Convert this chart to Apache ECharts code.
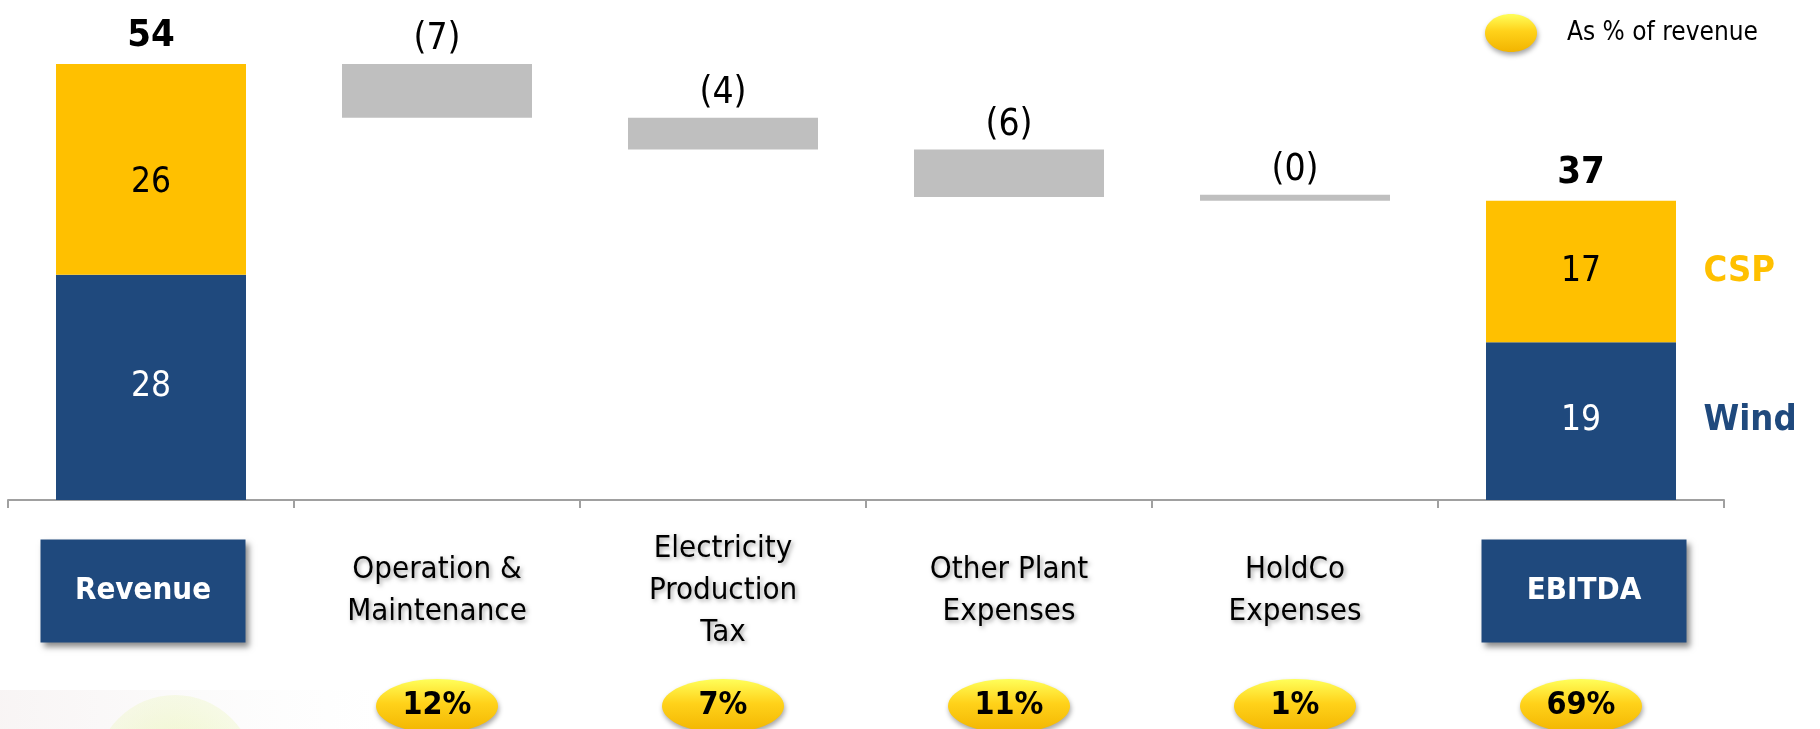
<!DOCTYPE html>
<html>
<head>
<meta charset="utf-8">
<style>
  html, body { margin: 0; padding: 0; background: #ffffff; }
  #chart { width: 1820px; height: 729px; }
</style>
<script src="https://cdn.jsdelivr.net/npm/echarts@6/dist/echarts.min.js"></script>
</head>
<body>
<div id="chart"></div>
<script>
// Revenue to EBITDA bridge (figures in millions)
const categories = ['Revenue', 'Operation &\nMaintenance', 'Electricity\nProduction\nTax', 'Other Plant\nExpenses', 'HoldCo\nExpenses', 'EBITDA'];
const windValues = [27.7, null, null, null, null, 19.4];
const cspValues  = [25.9, null, null, null, null, 17.4];
const costValues = [null, 6.6, 3.9, 5.85, 0.45, null];
const pctLabels  = [null, '12%', '7%', '11%', '1%', '69%'];

const FONT = '"DejaVu Sans Condensed", "DejaVu Sans", sans-serif';
const NAVY = '#1F497D';
const GOLD = '#FFC000';
const GREY = '#BFBFBF';
const CLEAR = 'rgba(0,0,0,0)';

// invisible base under each cost bar so it floats at the running total
const baseValues = [];
let running = windValues[0] + cspValues[0];
for (let i = 0; i < categories.length; i++) {
  if (costValues[i] != null) {
    running -= costValues[i];
    baseValues.push(running);
  } else {
    baseValues.push(null);
  }
}
const totals = [[0, windValues[0] + cspValues[0]], [5, windValues[5] + cspValues[5]]];
const segmentNames = [
  { value: [5, windValues[5] / 2], name: 'Wind', label: { color: NAVY } },
  { value: [5, windValues[5] + cspValues[5] / 2], name: 'CSP', label: { color: GOLD } }
];
const badgeData = [];
pctLabels.forEach((t, i) => { if (t) badgeData.push([i, 0]); });

const badgeFill = new echarts.graphic.LinearGradient(0, 0, 0, 1, [
  { offset: 0, color: '#FFFF5A' },
  { offset: 0.45, color: '#FFD21A' },
  { offset: 1, color: '#F2B400' }
]);

const chart = echarts.init(document.getElementById('chart'));
chart.setOption({
  backgroundColor: '#ffffff',
  animation: false,
  textStyle: { fontFamily: FONT },
  grid: { left: 8, right: 96, top: 12, bottom: 229 },
  xAxis: {
    type: 'category',
    data: categories,
    boundaryGap: true,
    axisLine: { lineStyle: { color: '#A0A0A0', width: 2 } },
    axisTick: { show: true, interval: 0, length: 8, lineStyle: { color: '#A0A0A0', width: 2 } },
    axisLabel: {
      interval: 0,
      margin: 91,
      verticalAlign: 'middle',
      fontFamily: FONT,
      fontSize: 31,
      lineHeight: 42,
      color: '#000',
      textShadowColor: 'rgba(0,0,0,0.35)',
      textShadowBlur: 4,
      textShadowOffsetX: 2,
      textShadowOffsetY: 2,
      formatter: (v, i) => {
        if (i === 0) return '{box|' + v + '}{padR|}';
        if (i === categories.length - 1) return '{padL|}{box|' + v + '}';
        return v;
      },
      rich: {
        box: {
          width: 205, height: 103, align: 'center', verticalAlign: 'middle',
          backgroundColor: NAVY, color: '#fff', fontWeight: 'bold', fontSize: 31, fontFamily: FONT,
          textShadowBlur: 0, textShadowOffsetX: 0, textShadowOffsetY: 0, textShadowColor: CLEAR,
          shadowColor: 'rgba(0,0,0,0.45)', shadowBlur: 6, shadowOffsetX: 3, shadowOffsetY: 4
        },
        padR: { width: 16, height: 10 },
        padL: { width: 6, height: 10 }
      }
    }
  },
  yAxis: { type: 'value', min: 0, max: 60, show: false },
  graphic: [
    // faint decorative wash at the lower left
    {
      type: 'circle', z: -10, silent: true,
      shape: { cx: 175, cy: 775, r: 80 },
      style: { fill: new echarts.graphic.RadialGradient(0.5, 0.5, 0.5, [
        { offset: 0, color: 'rgba(226,242,150,0.55)' },
        { offset: 1, color: 'rgba(236,246,190,0.35)' }
      ]) }
    },
    {
      type: 'rect', z: -11, silent: true,
      shape: { x: 0, y: 690, width: 380, height: 39 },
      style: { fill: new echarts.graphic.LinearGradient(0, 0, 1, 0, [
        { offset: 0, color: 'rgba(235,225,225,0.35)' },
        { offset: 1, color: 'rgba(235,235,235,0)' }
      ]) }
    },
    // legend badge
    {
      type: 'ellipse', silent: true,
      shape: { cx: 1511, cy: 33, rx: 26, ry: 19 },
      style: { fill: badgeFill, shadowColor: 'rgba(0,0,0,0.35)', shadowBlur: 5, shadowOffsetX: 1, shadowOffsetY: 3 }
    },
    {
      type: 'text', silent: true, left: 1567, top: 20,
      style: { text: 'As % of revenue', fontFamily: FONT, fontSize: 26, fill: '#000' }
    }
  ],
  series: [
    {
      name: 'base', type: 'bar', stack: 'wf', barWidth: 190, silent: true,
      itemStyle: { color: CLEAR },
      data: baseValues
    },
    {
      name: 'Wind', type: 'bar', stack: 'wf', barWidth: 190,
      itemStyle: { color: NAVY },
      label: { show: true, position: 'inside', color: '#fff', fontSize: 35, fontFamily: FONT,
        formatter: p => Math.round(p.value) },
      data: windValues
    },
    {
      name: 'CSP', type: 'bar', stack: 'wf', barWidth: 190,
      itemStyle: { color: GOLD },
      label: { show: true, position: 'inside', color: '#000', fontSize: 35, fontFamily: FONT,
        formatter: p => Math.round(p.value) },
      data: cspValues.map((v, i) => (i === 0 ? { value: v, label: { offset: [0, 14] } } : v))
    },
    {
      name: 'cost', type: 'bar', stack: 'wf', barWidth: 190, barMinHeight: 6,
      itemStyle: { color: GREY },
      label: { show: true, position: 'top', distance: 6, color: '#000', fontSize: 37, fontFamily: FONT,
        formatter: p => '(' + Math.round(p.value) + ')' },
      data: costValues
    },
    {
      name: 'total', type: 'scatter', symbolSize: 1, itemStyle: { color: CLEAR, opacity: 1 }, silent: true,
      label: { show: true, position: 'top', distance: 8, color: '#000', fontSize: 38, fontWeight: 'bold', fontFamily: FONT,
        formatter: p => Math.round(p.value[1]) },
      data: totals
    },
    {
      name: 'segments', type: 'scatter', symbolSize: 1, itemStyle: { color: CLEAR, opacity: 1 }, silent: true,
      label: { show: true, position: 'right', distance: 122, fontSize: 36, fontWeight: 'bold', fontFamily: FONT,
        formatter: p => p.name },
      data: segmentNames
    },
    {
      name: 'share', type: 'custom', silent: true, clip: false,
      data: badgeData,
      renderItem: (params, api) => {
        const p = api.coord([api.value(0), 0]);
        const cy = p[1] + 206;
        return {
          type: 'group',
          children: [
            { type: 'ellipse', shape: { cx: p[0], cy: cy, rx: 61, ry: 27 },
              style: { fill: badgeFill, shadowColor: 'rgba(0,0,0,0.35)', shadowBlur: 5, shadowOffsetX: 1, shadowOffsetY: 3 } },
            { type: 'text', x: p[0], y: cy,
              style: { text: pctLabels[badgeData[params.dataIndex][0]], fontFamily: FONT, fontSize: 32, fontWeight: 'bold',
                fill: '#000', align: 'center', verticalAlign: 'middle' } }
          ]
        };
      }
    }
  ]
});
</script>
</body>
</html>
